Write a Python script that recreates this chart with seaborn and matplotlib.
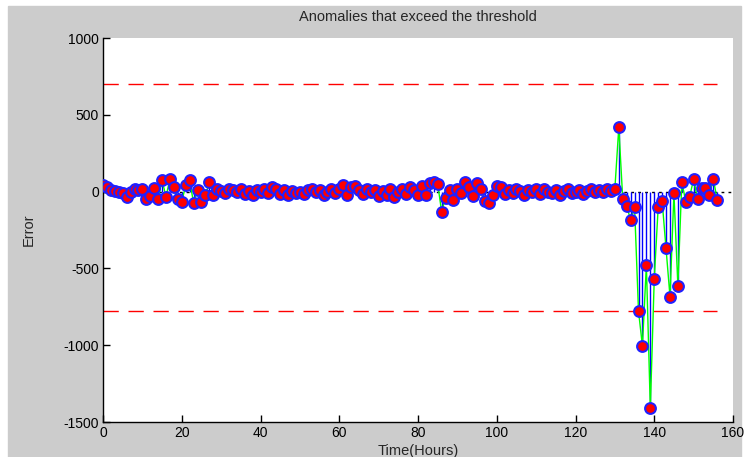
import numpy as np
import pandas as pd
import matplotlib
matplotlib.use('Agg')
import matplotlib.pyplot as plt
from matplotlib.patches import Rectangle
import seaborn as sns

# 误差数据
err_calm = [40, 30, 10, 5, -5, -10, -35, 0, 15, 10, 20, -45, -30, 25, -50, 75, -35, 85, 30, -45,
            -65, 40, 75, -75, 10, -65, -25, 60, -20, 15, 5, -10, 20, 10, -5, 15, -15, 5, -25, 10,
            0, 15, -10, 30, 20, -15, 10, -20, 5, -10, 0, -15, 10, 20, -5, 10, -20, 0, 15, -10,
            20, 40, -25, 30, 35, 10, -15, 20, -5, 10, -30, 5, -20, 15, -35, 0, 20, -15, 30, 10,
            -25, 35, -20, 55, 65, 50, -130, -40, 10, -55, 20, -10, 60, 30, -30, 55, 20, -60, -75, -20,
            35, 30, -15, 10, -10, 15, 5, -20, 10, -5, 15, -15, 20, 0, -10, 10, -20, 5, 15, -10,
            0, 10, -15, 5, 15, -5, 10, 0, 15, 5, 20]
err_anom = [420, -50, -94, -185, -98, -778, -1005, -478, -1411, -569, -102, -61, -369, -684, -11,
            -612, 64, -66, -33, 82, -50, 21, 21, -22, 82, -55]
errors = err_calm + err_anom
hours = list(range(len(errors)))

upper_thr = 700
lower_thr = -780

df = pd.DataFrame({'hour': hours, 'error': errors})

sns.set_style('white')
plt.rcParams['font.family'] = ['Liberation Sans', 'DejaVu Sans']
plt.rcParams['font.size'] = 10
plt.rcParams['axes.unicode_minus'] = False

fig = plt.figure(figsize=(7.47, 4.57), dpi=100)
fig.patch.set_facecolor('white')
fig.add_artist(Rectangle((8 / 747, 0), (741 - 8) / 747, (457 - 6) / 457,
                         transform=fig.transFigure, color='#cccccc', zorder=-10))
ax = fig.add_axes([103 / 747, 1 - 422 / 457, 630 / 747, 384 / 457])
ax.set_facecolor('white')

# 茎线
ax.vlines(df['hour'], 0, df['error'], color='blue', linewidth=1, zorder=2)
# 绿色折线
sns.lineplot(x='hour', y='error', data=df, color='#00ff00', linewidth=1, ax=ax, zorder=3)
# 红色标记
sns.scatterplot(x='hour', y='error', data=df, color='red', edgecolor='#2020ff', linewidth=1.5,
                s=60, ax=ax, zorder=4)

# 基线和阈值线
ax.plot([0, 160], [0, 0], color='black', linestyle=(0, (2, 3)), linewidth=1, zorder=1)
ax.hlines([upper_thr, lower_thr], 0, hours[-1], color='red', linestyles=(0, (11, 7)),
          linewidth=1, zorder=1)

ax.set_xlim(0, 160)
ax.set_ylim(-1500, 1000)
ax.set_xticks(range(0, 161, 20))
ax.set_yticks([1000, 500, 0, -500, -1000, -1500])
ax.tick_params(direction='in', length=5, width=1, colors='black', labelsize=10,
               bottom=True, left=True, pad=3)
for side in ['top', 'right']:
    ax.spines[side].set_visible(False)
for side in ['left', 'bottom']:
    ax.spines[side].set_color('black')
    ax.spines[side].set_linewidth(1)

ax.set_title('Anomalies that exceed the threshold', fontsize=10.5, pad=12)
ax.set_xlabel('Time(Hours)', fontsize=10.5, labelpad=3)
ax.set_ylabel('Error', fontsize=10.5, labelpad=20)

fig.savefig('out.png', dpi=100, facecolor=fig.get_facecolor())
